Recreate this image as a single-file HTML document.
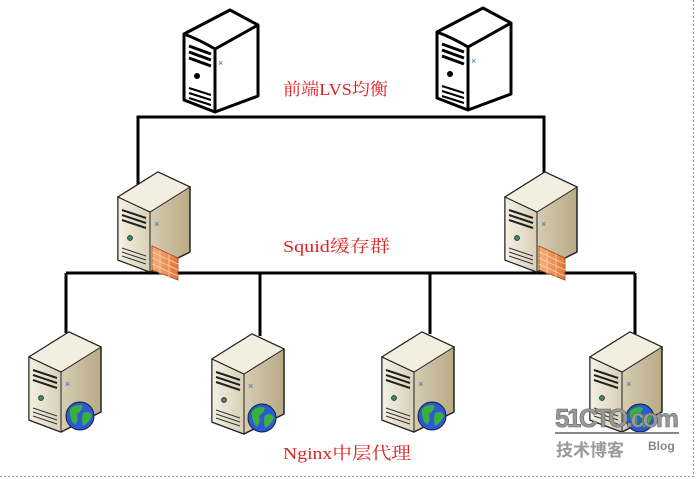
<!DOCTYPE html>
<html><head><meta charset="utf-8"><style>
html,body{margin:0;padding:0;background:#fff;}
svg{display:block}
.lbl{font-family:"Liberation Serif","Noto Serif CJK SC",serif;font-size:17px;fill:#e02020}
</style></head><body>
<svg width="698" height="479" viewBox="0 0 698 479" xmlns="http://www.w3.org/2000/svg">
<defs>
<linearGradient id="fr" x1="0" x2="1" y1="0" y2="0"><stop offset="0" stop-color="#f4f0e4"/><stop offset="1" stop-color="#d8cfb6"/></linearGradient>
<linearGradient id="sd" x1="0" x2="1" y1="0" y2="0"><stop offset="0" stop-color="#efe8d6"/><stop offset="1" stop-color="#b9aa86"/></linearGradient>
<linearGradient id="fw" x1="0" x2="1"><stop offset="0" stop-color="#f6b07a"/><stop offset="1" stop-color="#e2763a"/></linearGradient>
<g id="bw">
<path d="M0,24 L46,0 L74,15 L74,86 L31,102 L0,90 Z" fill="#fff" stroke="#000" stroke-width="3" stroke-linejoin="round"/>
<path d="M0,24 Q16,30 31,39 L74,15 M31,39 L31,102" fill="none" stroke="#000" stroke-width="3"/>
<path d="M5,36 L27,44 M5,42 L27,50 M5,48 L27,56" stroke="#000" stroke-width="3"/>
<circle cx="13" cy="66" r="3" fill="#000"/>
<path d="M5,78 L27,85 M5,83 L27,90 M5,88 L27,95" stroke="#000" stroke-width="2"/>
<text x="34" y="56" font-size="9" fill="#1a6fd0" font-family="Liberation Sans,sans-serif">×</text>
</g>
<g id="bg">
<path d="M0,25 L40,0 L72,15 L72,80 L32,100 L0,88 Z" fill="url(#sd)" stroke="#222" stroke-width="1.5" stroke-linejoin="round"/>
<path d="M0,25 L32,40 L32,100 L0,88 Z" fill="url(#fr)" stroke="#222" stroke-width="1"/>
<path d="M0,25 L40,0 L72,15 L32,40 Z" fill="#f3eee0" stroke="#222" stroke-width="1"/>
<path d="M4,38 L28,46 M4,43 L28,51 M4,48 L28,56" stroke="#222" stroke-width="2"/>
<circle cx="12" cy="66" r="2.5" fill="#3a8a6a" stroke="#222" stroke-width=".7"/>
<path d="M4,76 L28,84 M4,80 L28,88 M4,84 L28,92" stroke="#333" stroke-width="1"/>
<text x="36" y="55" font-size="9" fill="#1a6fd0" font-family="Liberation Sans,sans-serif">×</text>
</g>
<g id="fwall">
<path d="M0,0 L26,12 L26,34 L0,24 Z" fill="url(#fw)" stroke="#a04a18" stroke-width=".8"/>
<path d="M0,6 L26,18 M0,12 L26,24 M0,18 L26,30 M8,4 L8,28 M17,8 L17,31" stroke="#fbd3b0" stroke-width=".8" fill="none"/>
</g>
<g id="globe">
<circle r="14" fill="#2a5ad8" stroke="#123" stroke-width="1"/>
<path d="M-10,-7 Q-3,-13 3,-10 Q1,-4 -3,-2 Q-1,4 -5,9 Q-11,3 -10,-7 Z M3,-3 Q10,-6 12,0 Q9,7 3,10 Q1,3 3,-3 Z" fill="#3cae3c"/>
</g>
</defs>
<g stroke="#000" stroke-width="3" fill="none">
<path d="M138,190 L138,117 L544,117 L544,175"/>
<path d="M66,273 L635,273 M66,273 L66,333 M260,273 L260,336 M430,273 L430,334 M635,273 L635,334"/>
</g>
<use href="#bw" x="184" y="10"/>
<use href="#bw" x="437" y="8"/>
<use href="#bg" x="118" y="172"/>
<use href="#fwall" x="152" y="246"/>
<use href="#bg" x="505" y="172"/>
<use href="#fwall" x="539" y="246"/>
<use href="#bg" x="29" y="332"/>
<use href="#globe" x="80" y="416"/>
<use href="#bg" x="212" y="334"/>
<use href="#globe" x="262" y="418"/>
<use href="#bg" x="382" y="332"/>
<use href="#globe" x="432" y="416"/>
<use href="#bg" x="590" y="332"/>
<use href="#globe" x="640" y="418"/>
<text class="lbl" x="283" y="95" textLength="105" lengthAdjust="spacingAndGlyphs">前端LVS均衡</text>
<text class="lbl" x="283" y="252" textLength="107" lengthAdjust="spacingAndGlyphs">Squid缓存群</text>
<text class="lbl" x="283" y="459" textLength="128" lengthAdjust="spacingAndGlyphs">Nginx中层代理</text>
<g font-family="Liberation Sans,sans-serif" font-weight="bold" fill="#999">
<text x="555" y="427" font-size="26" stroke="#666" stroke-width=".6" textLength="124">51CTO.com</text>
<rect x="555" y="432" width="124" height="2" fill="#888"/>
<text x="556" y="456" font-size="17" font-family="Liberation Sans,'Noto Sans CJK SC',sans-serif">技术博客</text>
<text x="648" y="450" font-size="12" fill="#888">Blog</text>
</g>
<path d="M693.5,0 L693.5,476.5 L0,476.5" stroke="#999" stroke-dasharray="2,2" fill="none"/>
</svg>
</body></html>
